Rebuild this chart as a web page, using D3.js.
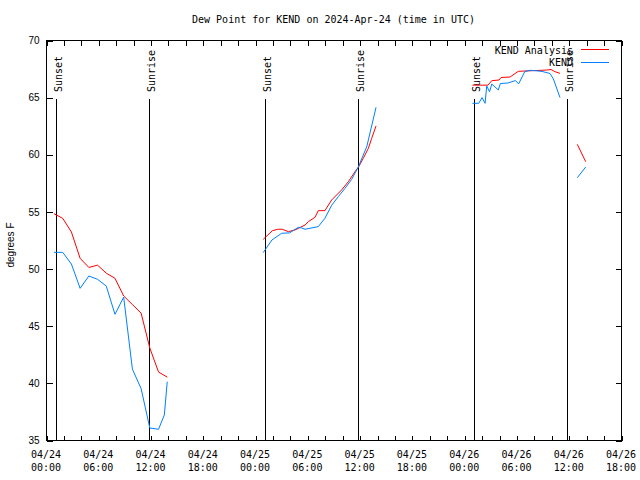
<!DOCTYPE html>
<html><head><meta charset="utf-8">
<script src="https://cdn.jsdelivr.net/npm/d3@7"></script>
<style>
body{margin:0;background:#fff}
.mono{font-family:"DejaVu Sans Mono",monospace;font-size:10px;fill:#000}
.sans{font-family:"Liberation Sans",Arial,sans-serif;font-size:10px;fill:#000}
</style>
</head><body>
<svg id="c" width="640" height="480"></svg>
<script>
// ---------------- data ----------------
const chartTitle = "Dew Point for KEND on 2024-Apr-24 (time in UTC)";
const yLabel = "degrees F";
const yTickValues = [35, 40, 45, 50, 55, 60, 65, 70];
const xDomain = ["2024-04-24T00:00", "2024-04-26T18:00"];
const legendLabels = ["KEND Analysis", "KEND"];

// KEND Analysis (red); null = gap
const analysisTimes = [
  "2024-04-24T00:55","2024-04-24T01:55","2024-04-24T02:55","2024-04-24T03:55","2024-04-24T04:55",
  "2024-04-24T05:55","2024-04-24T06:55","2024-04-24T07:55","2024-04-24T08:55","2024-04-24T09:55",
  "2024-04-24T10:55","2024-04-24T11:55","2024-04-24T12:55","2024-04-24T13:55",
  "2024-04-24T18:00",
  "2024-04-25T00:56","2024-04-25T01:59","2024-04-25T02:36","2024-04-25T03:07","2024-04-25T03:49",
  "2024-04-25T04:35","2024-04-25T05:44","2024-04-25T06:06","2024-04-25T06:53","2024-04-25T07:15",
  "2024-04-25T08:01","2024-04-25T08:47","2024-04-25T09:56","2024-04-25T10:42","2024-04-25T11:28",
  "2024-04-25T11:51","2024-04-25T12:25","2024-04-25T13:00","2024-04-25T13:23","2024-04-25T13:53",
  "2024-04-25T18:00",
  "2024-04-26T00:57","2024-04-26T02:44","2024-04-26T03:10","2024-04-26T04:00","2024-04-26T04:14",
  "2024-04-26T05:16","2024-04-26T05:43","2024-04-26T06:13","2024-04-26T09:28","2024-04-26T09:58",
  "2024-04-26T10:25","2024-04-26T11:00",
  "2024-04-26T12:00",
  "2024-04-26T12:59","2024-04-26T13:57"
];
const analysisValues = [
  54.8, 54.4, 53.2, 50.9, 50.1, 50.3, 49.6, 49.15, 47.6, 46.85, 46.1, 43.05, 40.95, 40.5,
  null,
  52.56, 53.31, 53.44, 53.44, 53.23, 53.38, 53.81, 54.1, 54.49, 55.07,
  55.07, 56.0, 56.88, 57.6, 58.48, 58.86, 59.65, 60.52, 61.4, 62.48,
  null,
  66.05, 66.05, 66.44, 66.5, 66.72, 66.76, 67.0, 67.26, 67.37, 67.42, 67.23, 67.08,
  null,
  60.87, 59.35
];

// KEND observations (blue); null = gap
const obsTimes = [
  "2024-04-24T00:55","2024-04-24T01:55","2024-04-24T02:55","2024-04-24T03:55","2024-04-24T04:55",
  "2024-04-24T05:55","2024-04-24T06:55","2024-04-24T07:55","2024-04-24T08:55","2024-04-24T09:55",
  "2024-04-24T10:55","2024-04-24T11:55","2024-04-24T12:55","2024-04-24T13:35","2024-04-24T13:55",
  "2024-04-24T18:00",
  "2024-04-25T00:56","2024-04-25T01:56","2024-04-25T03:03","2024-04-25T03:57","2024-04-25T04:58",
  "2024-04-25T05:21","2024-04-25T05:44","2024-04-25T07:15","2024-04-25T08:01","2024-04-25T08:48",
  "2024-04-25T09:33","2024-04-25T10:19","2024-04-25T11:05","2024-04-25T11:51","2024-04-25T12:49",
  "2024-04-25T13:53",
  "2024-04-25T18:00",
  "2024-04-26T00:57","2024-04-26T01:40","2024-04-26T02:03","2024-04-26T02:24","2024-04-26T02:35",
  "2024-04-26T02:55","2024-04-26T03:10","2024-04-26T03:55","2024-04-26T04:09","2024-04-26T05:02",
  "2024-04-26T05:53","2024-04-26T06:15","2024-04-26T06:57","2024-04-26T07:33","2024-04-26T08:21",
  "2024-04-26T08:56","2024-04-26T09:51","2024-04-26T10:14","2024-04-26T11:00",
  "2024-04-26T12:00",
  "2024-04-26T12:59","2024-04-26T13:57"
];
const obsValues = [
  51.42, 51.42, 50.4, 48.27, 49.35, 49.06, 48.47, 46.0, 47.5, 41.2, 39.5, 36.05, 35.94, 37.19, 40.1,
  null,
  51.4, 52.5, 53.09, 53.12, 53.61, 53.55, 53.44, 53.67, 54.4, 55.55, 56.29, 57.02, 57.8, 58.9, 60.66, 64.11,
  null,
  64.46, 64.46, 64.96, 64.46, 65.97, 65.47, 66.15, 65.63, 66.19, 66.24, 66.45, 66.16, 67.23, 67.35, 67.3,
  67.25, 67.07, 66.6, 64.96,
  null,
  57.95, 58.89
];

// Sunrise / sunset markers
const sunEventTimes = ["2024-04-24T01:09","2024-04-24T11:52","2024-04-25T01:08","2024-04-25T11:51","2024-04-26T01:06","2024-04-26T11:49"];
const sunEventLabels = ["Sunset","Sunrise","Sunset","Sunrise","Sunset","Sunrise"];

// ---------------- drawing ----------------
const parse = d3.utcParse("%Y-%m-%dT%H:%M");
const svg = d3.select("#c");
const L = 46, R = 621, T = 40, B = 440;

const x = d3.scaleUtc().domain(xDomain.map(parse)).range([L, R]);
const y = d3.scaleLinear().domain([35, 70]).range([B, T]);

const analysis = analysisTimes.map((t, i) => ({t: parse(t), v: analysisValues[i]}));
const obs = obsTimes.map((t, i) => ({t: parse(t), v: obsValues[i]}));

const minorTicks = x.ticks(d3.utcHour.every(2));
const majorTicks = x.ticks(d3.utcHour.every(6));

const axG = svg.append("g").attr("shape-rendering", "crispEdges");
// bottom
axG.append("g").attr("transform", `translate(0.5,${B + 0.5})`)
  .call(d3.axisBottom(x).tickValues(minorTicks).tickSizeInner(-5).tickSizeOuter(0).tickFormat(""))
  .call(g => g.select(".domain").remove());
// top
axG.append("g").attr("transform", `translate(0.5,${T + 0.5})`)
  .call(d3.axisTop(x).tickValues(minorTicks).tickSizeInner(-5).tickSizeOuter(0).tickFormat(""))
  .call(g => g.select(".domain").remove());
// left
const gl = axG.append("g").attr("transform", `translate(${L + 0.5},0.5)`)
  .call(d3.axisLeft(y).tickValues(yTickValues).tickSizeInner(-6).tickSizeOuter(0).tickPadding(7))
  .call(g => g.select(".domain").remove());
gl.selectAll("text").attr("class", "sans").attr("font-family", null).attr("font-size", null);
gl.attr("font-family", null).attr("font-size", null);
// right
axG.append("g").attr("transform", `translate(${R + 0.5},0.5)`)
  .call(d3.axisRight(y).tickValues(yTickValues).tickSizeInner(-6).tickSizeOuter(0).tickFormat(""))
  .call(g => g.select(".domain").remove());
axG.selectAll(".tick line").attr("stroke", "#000");

// x tick labels (two lines)
const fmtDate = d3.utcFormat("%m/%d"), fmtTime = d3.utcFormat("%H:%M");
const xl = svg.append("g");
majorTicks.forEach(d => {
  const t = xl.append("text").attr("class", "mono").attr("text-anchor", "middle");
  t.append("tspan").attr("x", x(d)).attr("y", 458).text(fmtDate(d));
  t.append("tspan").attr("x", x(d)).attr("y", 470.5).text(fmtTime(d));
});

// sun lines
const sunG = svg.append("g");
sunEventTimes.forEach((s, i) => {
  const xp = Math.round(x(parse(s))) + 0.5;
  sunG.append("line").attr("x1", xp).attr("x2", xp).attr("y1", 99).attr("y2", B)
    .attr("stroke", "#000").attr("stroke-width", 1).attr("shape-rendering", "crispEdges");
  sunG.append("text").attr("class", "mono")
    .attr("transform", `translate(${xp + 5.5},92) rotate(-90)`)
    .attr("text-anchor", "start").text(sunEventLabels[i]);
});

// series
const line = d3.line().defined(d => d.v != null).x(d => x(d.t)).y(d => y(d.v));
svg.append("path").datum(analysis).attr("d", line)
  .attr("fill", "none").attr("stroke", "#ff0000").attr("stroke-width", 1);
svg.append("path").datum(obs).attr("d", line)
  .attr("fill", "none").attr("stroke", "#0080ff").attr("stroke-width", 1);

// border
svg.append("rect").attr("x", L + 0.5).attr("y", T + 0.5).attr("width", R - L).attr("height", B - T)
  .attr("fill", "none").attr("stroke", "#000").attr("shape-rendering", "crispEdges");

// title
svg.append("text").attr("class", "mono").attr("x", (L + R) / 2).attr("y", 23)
  .attr("text-anchor", "middle").text(chartTitle);

// y label
svg.append("text").attr("class", "sans").attr("transform", `translate(14,245) rotate(-90)`)
  .attr("text-anchor", "middle").text(yLabel);

// legend
const legColors = ["#ff0000", "#0080ff"];
legendLabels.forEach((lab, i) => {
  const by = 53.5 + i * 12.5;
  svg.append("text").attr("class", "mono").attr("x", 573).attr("y", by)
    .attr("text-anchor", "end").text(lab);
  svg.append("line").attr("x1", 581).attr("x2", 609).attr("y1", by - 4).attr("y2", by - 4)
    .attr("stroke", legColors[i]).attr("stroke-width", 1).attr("shape-rendering", "crispEdges");
});
</script>
</body></html>
